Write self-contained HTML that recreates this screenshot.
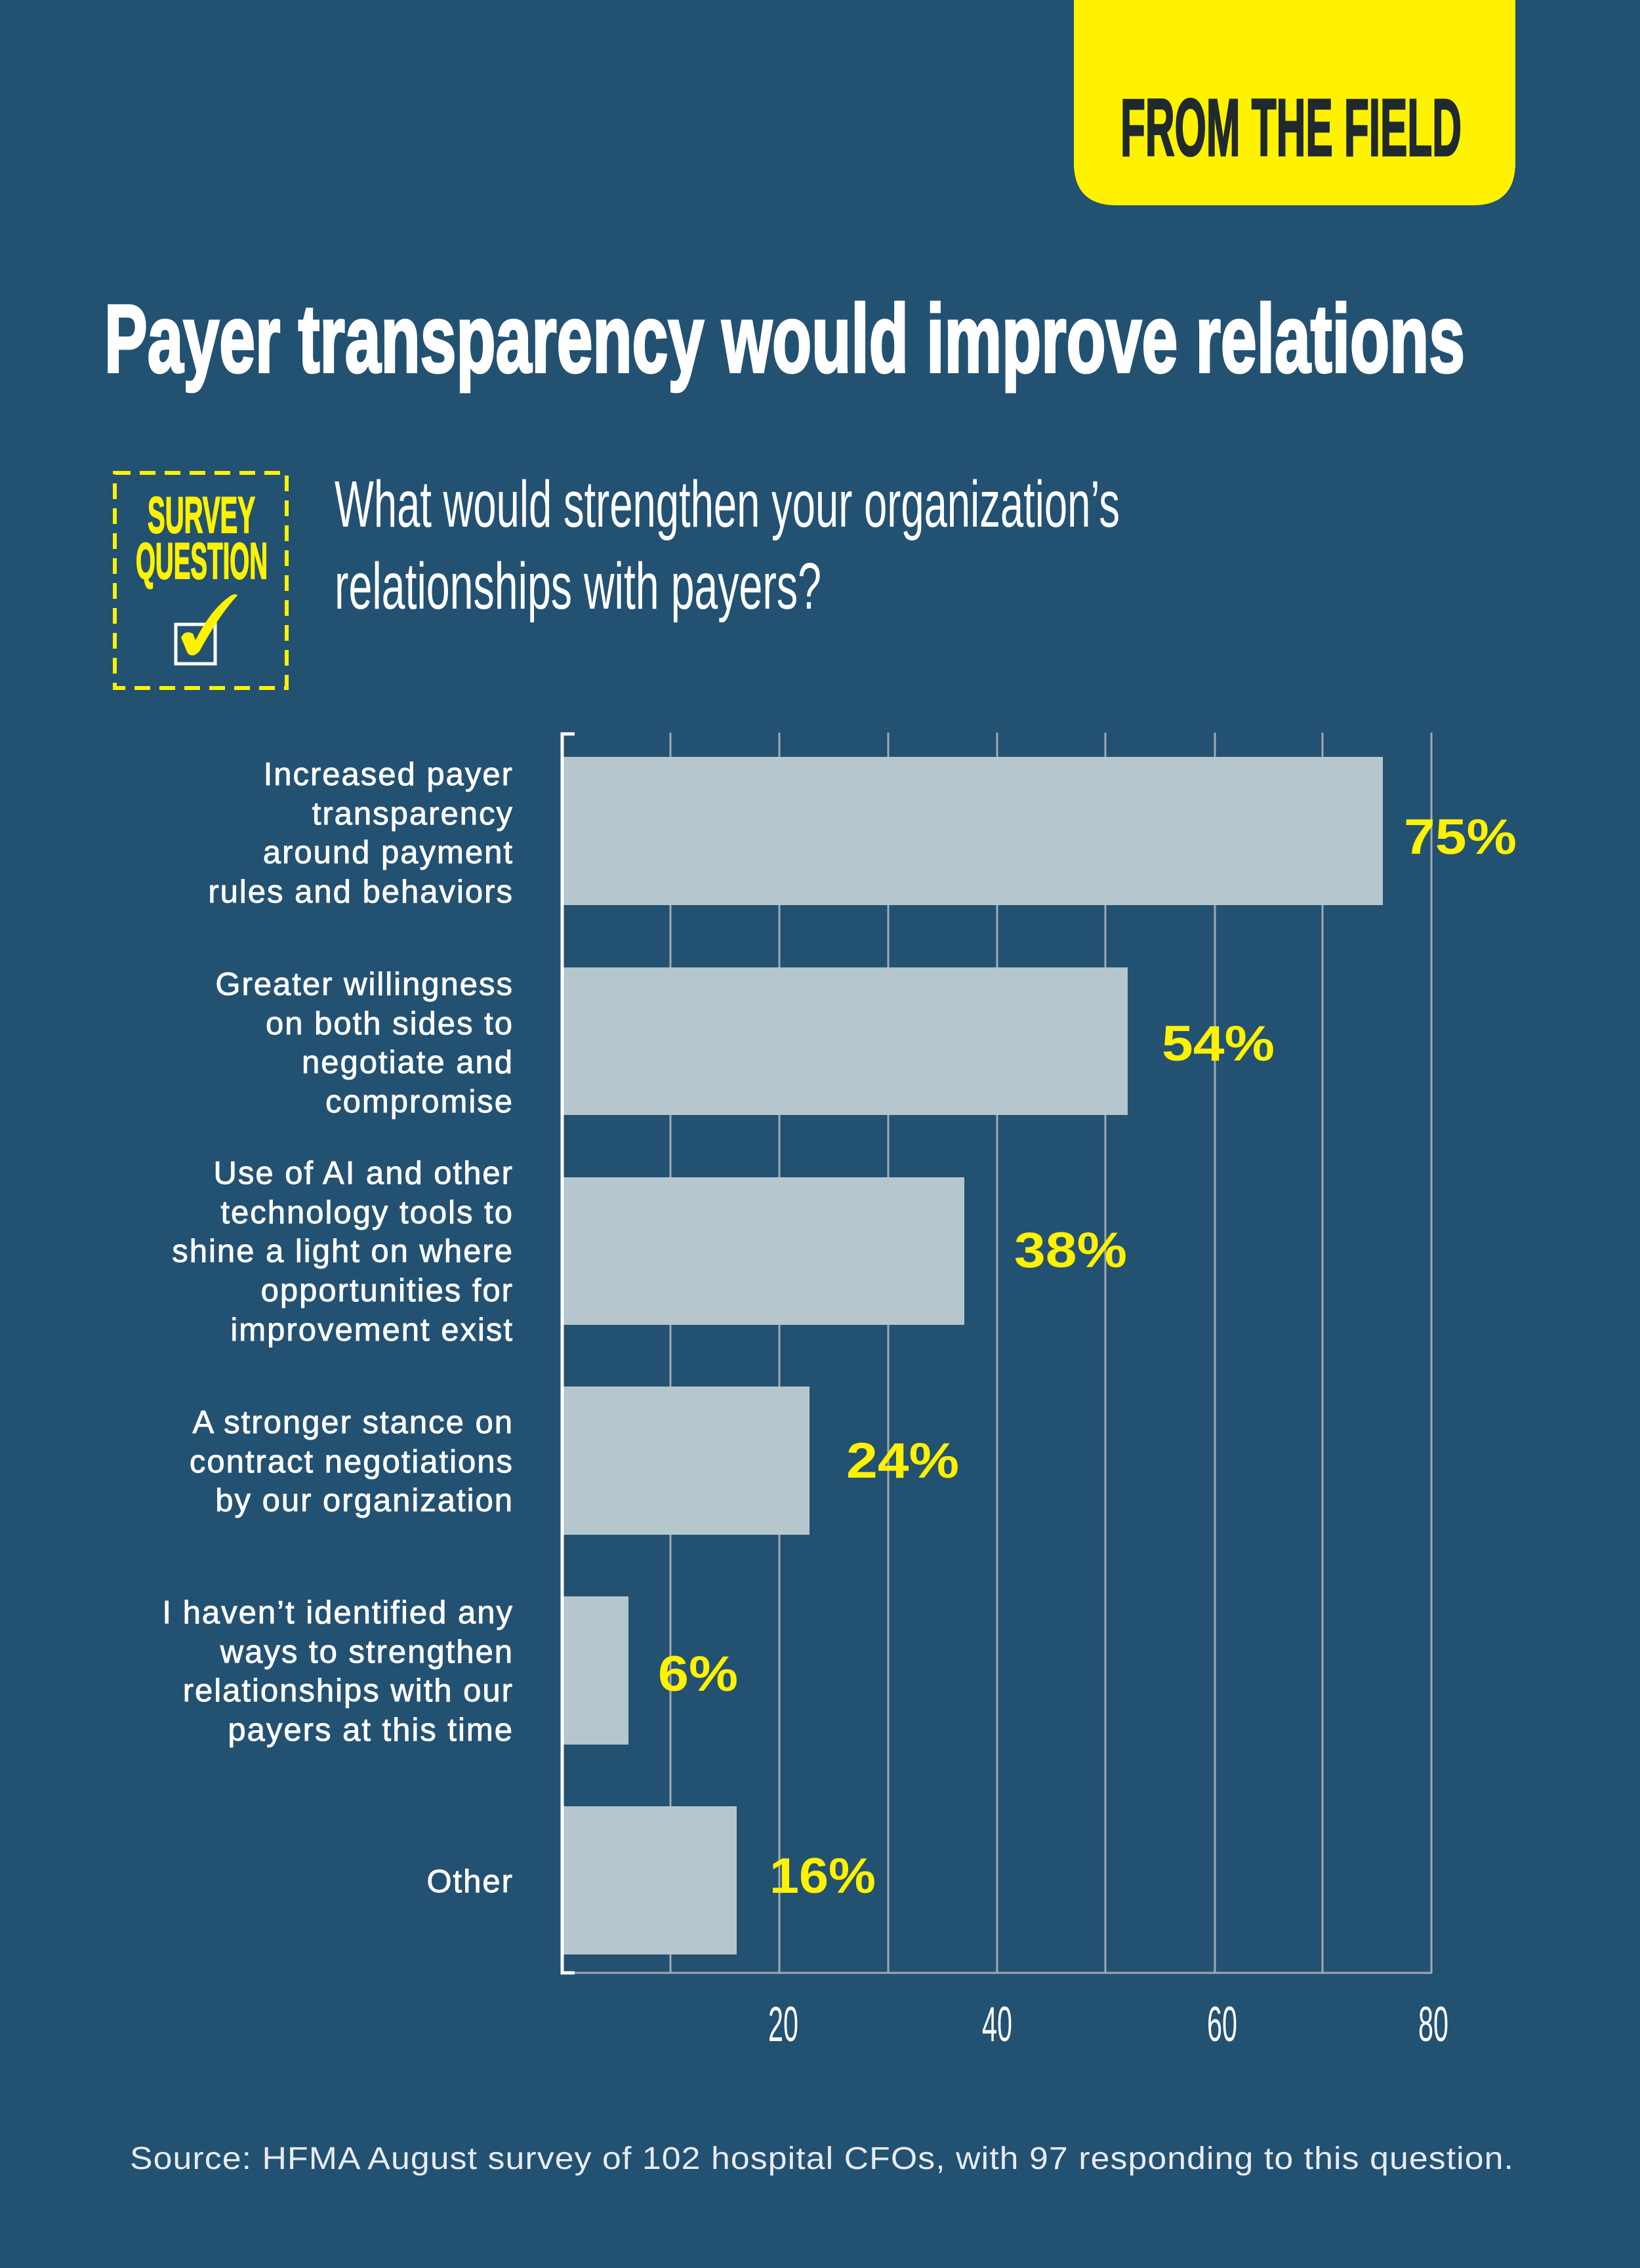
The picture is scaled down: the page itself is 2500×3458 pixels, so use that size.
<!DOCTYPE html>
<html><head><meta charset="utf-8"><style>
html,body{margin:0;padding:0;background:#235172;}
svg{display:block;}
</style></head><body>
<svg width="2500" height="3458" viewBox="0 0 2500 3458" xmlns="http://www.w3.org/2000/svg">
<rect width="2500" height="3458" fill="#235172"/>
<!-- yellow tab -->
<path d="M1637 0 H2310 V248 Q2310 313 2245 313 H1702 Q1637 313 1637 248 Z" fill="#FFF200"/>
<text x="1708" y="237" font-family="Liberation Sans, sans-serif" font-weight="bold" font-size="123" fill="#1f292e" stroke="#1f292e" stroke-width="3" textLength="520" lengthAdjust="spacingAndGlyphs">FROM THE FIELD</text>
<!-- title -->
<text x="159" y="567" font-family="Liberation Sans, sans-serif" font-weight="bold" font-size="147" fill="#ffffff" stroke="#ffffff" stroke-width="4" textLength="2074" lengthAdjust="spacingAndGlyphs">Payer transparency would improve relations</text>
<!-- survey box -->
<rect x="175" y="721" width="262" height="328" fill="none" stroke="#FFF200" stroke-width="6" stroke-dasharray="24 14"/>
<text x="225" y="812" font-family="Liberation Sans, sans-serif" font-weight="bold" font-size="78" fill="#FFF200" stroke="#FFF200" stroke-width="2" textLength="164" lengthAdjust="spacingAndGlyphs">SURVEY</text>
<text x="207" y="882" font-family="Liberation Sans, sans-serif" font-weight="bold" font-size="78" fill="#FFF200" stroke="#FFF200" stroke-width="2" textLength="201" lengthAdjust="spacingAndGlyphs">QUESTION</text>
<rect x="268" y="952" width="60" height="60" fill="none" stroke="#ffffff" stroke-width="5"/>
<path d="M276 972 Q282 960 294 966 L298 976 Q322 928 352 908 Q360 904 362 908 Q336 935 304 993 Q294 1004 286 996 Z" fill="#FFF200"/>
<!-- question -->
<text x="510" y="803" font-family="Liberation Sans, sans-serif" font-size="100" fill="#ffffff" textLength="1197" lengthAdjust="spacingAndGlyphs">What would strengthen your organization’s</text>
<text x="510" y="928" font-family="Liberation Sans, sans-serif" font-size="100" fill="#ffffff" textLength="742" lengthAdjust="spacingAndGlyphs">relationships with payers?</text>
<!-- gridlines -->
<g stroke="#a3a9ae" stroke-width="3">
<line x1="1022" y1="1117" x2="1022" y2="3008"/>
<line x1="1188" y1="1117" x2="1188" y2="3008"/>
<line x1="1354" y1="1117" x2="1354" y2="3008"/>
<line x1="1520" y1="1117" x2="1520" y2="3008"/>
<line x1="1685" y1="1117" x2="1685" y2="3008"/>
<line x1="1852" y1="1117" x2="1852" y2="3008"/>
<line x1="2016" y1="1117" x2="2016" y2="3008"/>
<line x1="2182" y1="1117" x2="2182" y2="3008"/>
<line x1="858" y1="3008" x2="2183" y2="3008"/>
</g>
<!-- bars -->
<g fill="#b5c6cd">
<rect x="859" y="1154" width="1249" height="226"/>
<rect x="859" y="1475" width="860" height="225"/>
<rect x="859" y="1795" width="611" height="225"/>
<rect x="859" y="2114" width="375" height="226"/>
<rect x="859" y="2434" width="99" height="226"/>
<rect x="859" y="2754" width="264" height="226"/>
</g>
<!-- axis bracket -->
<path d="M876 1119 H857 V3008 H876" fill="none" stroke="#ffffff" stroke-width="5"/>
<!-- percent labels -->
<g font-family="Liberation Sans, sans-serif" font-weight="bold" font-size="76" fill="#FFF200">
<text x="2140" y="1302" textLength="172" lengthAdjust="spacingAndGlyphs">75%</text>
<text x="1771" y="1617" textLength="172" lengthAdjust="spacingAndGlyphs">54%</text>
<text x="1546" y="1932" textLength="172" lengthAdjust="spacingAndGlyphs">38%</text>
<text x="1290" y="2253" textLength="172" lengthAdjust="spacingAndGlyphs">24%</text>
<text x="1003" y="2578" textLength="122" lengthAdjust="spacingAndGlyphs">6%</text>
<text x="1173" y="2886" textLength="162" lengthAdjust="spacingAndGlyphs">16%</text>
</g>
<!-- tick labels -->
<g font-family="Liberation Sans, sans-serif" font-size="75" fill="#ffffff">
<text x="1171" y="3112" textLength="46" lengthAdjust="spacingAndGlyphs">20</text>
<text x="1497" y="3112" textLength="46" lengthAdjust="spacingAndGlyphs">40</text>
<text x="1840" y="3112" textLength="46" lengthAdjust="spacingAndGlyphs">60</text>
<text x="2162" y="3112" textLength="46" lengthAdjust="spacingAndGlyphs">80</text>
</g>
<!-- category labels -->
<g font-family="Liberation Sans, sans-serif" font-size="49" fill="#ffffff" stroke="#ffffff" stroke-width="0.9" letter-spacing="2" text-anchor="end">
<text x="783" y="1197">Increased payer</text>
<text x="783" y="1257">transparency</text>
<text x="783" y="1316">around payment</text>
<text x="783" y="1376">rules and behaviors</text>
<text x="783" y="1517">Greater willingness</text>
<text x="783" y="1577">on both sides to</text>
<text x="783" y="1636">negotiate and</text>
<text x="783" y="1696">compromise</text>
<text x="783" y="1805">Use of AI and other</text>
<text x="783" y="1865">technology tools to</text>
<text x="783" y="1924">shine a light on where</text>
<text x="783" y="1984">opportunities for</text>
<text x="783" y="2044">improvement exist</text>
<text x="783" y="2185">A stronger stance on</text>
<text x="783" y="2245">contract negotiations</text>
<text x="783" y="2304">by our organization</text>
<text x="783" y="2475">I haven’t identified any</text>
<text x="783" y="2535">ways to strengthen</text>
<text x="783" y="2594">relationships with our</text>
<text x="783" y="2654">payers at this time</text>
<text x="783" y="2885">Other</text>
</g>
<!-- source -->
<text x="198" y="3307" font-family="Liberation Sans, sans-serif" font-size="48" fill="#e8ecef" letter-spacing="1" textLength="2110" lengthAdjust="spacingAndGlyphs">Source: HFMA August survey of 102 hospital CFOs, with 97 responding to this question.</text>
</svg>
</body></html>
